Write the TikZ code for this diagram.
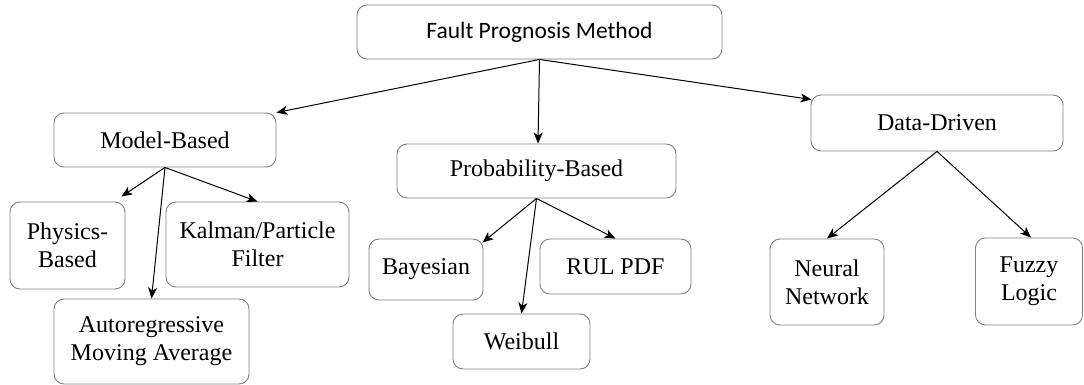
\documentclass[tikz,border=0pt]{standalone}
\usepackage{fontspec}
\setmainfont{Liberation Serif}
\newfontfamily\calfont{Carlito}
\usetikzlibrary{arrows.meta,calc}
\begin{document}
\begin{tikzpicture}[x=1pt,y=-1pt,
  box/.style={draw=black!50, line width=0.9pt, rounded corners=10pt, align=center,
    inner sep=0pt, font=\fontsize{24}{28}\selectfont},
  link/.style={draw=black, line width=1pt, -{Stealth[length=11pt,width=9pt,inset=3pt]}}]
\useasboundingbox (0,0) rectangle (1084,385);
\node[box, minimum width=365pt, minimum height=54pt, font=\calfont\fontsize{23.5}{28}\selectfont] (top) at (539.5,32) {Fault Prognosis Method};
\node[box, minimum width=222pt, minimum height=54pt] (model) at (165,140) {Model-Based};
\node[box, minimum width=115pt, minimum height=87pt] (phys) at (67.5,245.5) {Physics-\\Based};
\node[box, minimum width=183pt, minimum height=85pt] (kal) at (257.5,244.5) {Kalman/Particle\\Filter};
\node[box, minimum width=195pt, minimum height=85pt] (arma) at (151.5,341.5) {Autoregressive\\Moving Average};
\node[box, minimum width=279pt, minimum height=54pt] (prob) at (536.5,171) {Probability-Based};
\node[box, minimum width=114pt, minimum height=61pt] (bayes) at (426,269.5) {Bayesian};
\node[box, minimum width=151pt, minimum height=55pt] (rul) at (615.5,266.5) {RUL PDF};
\node[box, minimum width=137pt, minimum height=55pt] (weib) at (521.5,341.5) {Weibull};
\node[box, minimum width=252pt, minimum height=56pt] (data) at (937,123) {Data-Driven};
\node[box, minimum width=114pt, minimum height=86pt] (neur) at (827,282) {Neural\\Network};
\node[box, minimum width=107pt, minimum height=87pt] (fuzz) at (1029,281.5) {Fuzzy\\Logic};

\draw[link] (top.south) -- (model.north east);
\draw[link] (top.south) -- ($(prob.north)+(1.5,0)$);
\draw[link] (top.south) -- ($(data.north west)+(1,5)$);
\draw[link] (model.south) -- ($(phys.north east)+(-4,-5)$);
\draw[link] (model.south) -- (kal.north);
\draw[link] (model.south) -- (arma.north);
\draw[link] (prob.south) -- ($(bayes.north east)+(-1,4)$);
\draw[link] (prob.south) -- (rul.north);
\draw[link] (prob.south) -- (weib.north);
\draw[link] (data.south) -- (neur.north);
\draw[link] (data.south) -- ($(fuzz.north)+(2,0)$);
\end{tikzpicture}
\end{document}
